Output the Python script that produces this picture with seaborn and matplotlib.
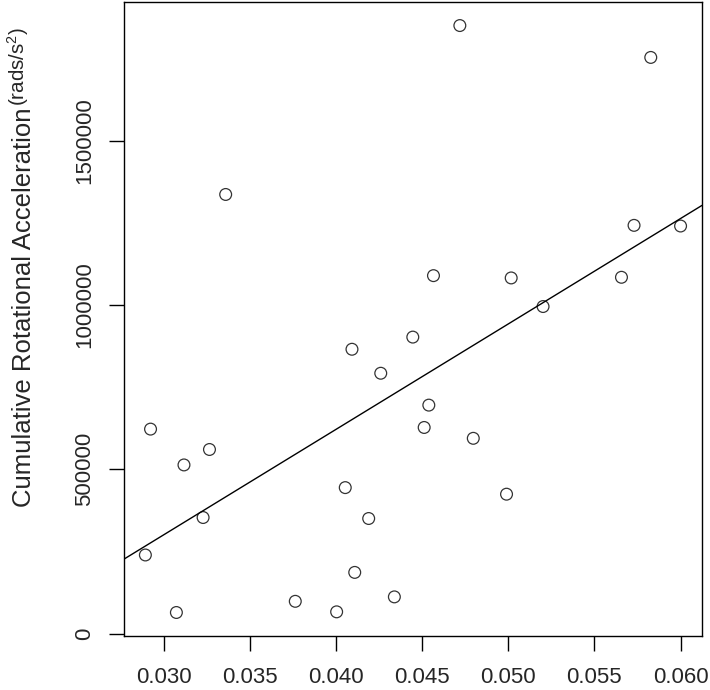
import numpy as np
import pandas as pd
import seaborn as sns
import matplotlib.pyplot as plt
from matplotlib.ticker import FuncFormatter

# values
strain = [0.02894, 0.02924, 0.03074, 0.03118, 0.03229, 0.03266, 0.03360,
          0.03764, 0.04004, 0.04054, 0.04093, 0.04109, 0.04190, 0.04260,
          0.04339, 0.04446, 0.04512, 0.04539, 0.04566, 0.04719, 0.04797,
          0.04990, 0.05017, 0.05202, 0.05657, 0.05730, 0.05827, 0.06000]
rot_acc = [239000, 622000, 64000, 513000, 353000, 560000, 1336000,
           98000, 66000, 444000, 865000, 186000, 350000, 792000,
           111500, 902000, 627000, 695000, 1089000, 1850000, 594000,
           424000, 1082000, 995000, 1084000, 1242000, 1753000, 1240000]
x_ticks = [0.030, 0.035, 0.040, 0.045, 0.050, 0.055, 0.060]
y_ticks = [0, 500000, 1000000, 1500000]

df = pd.DataFrame({'strain': strain, 'acc': rot_acc})

sns.set_style('white')
plt.rcParams['font.family'] = ['Liberation Sans', 'DejaVu Sans']
plt.rcParams['mathtext.fontset'] = 'custom'
plt.rcParams['mathtext.rm'] = 'Liberation Sans'
plt.rcParams['mathtext.it'] = 'Liberation Sans'

fs = 18.5
tfs = 16
fig = plt.figure(figsize=(7.1, 6.9), dpi=100)
ax = fig.add_axes([0.1746, 0.0783, 0.8141, 0.9187])

# R style limits: 4% padding on each side
xr = max(strain) - min(strain)
yr = max(rot_acc) - min(rot_acc)
xlim = (min(strain) - 0.04 * xr, max(strain) + 0.04 * xr)
ylim = (min(rot_acc) - 0.04 * yr, max(rot_acc) + 0.04 * yr)
ax.set_xlim(xlim)
ax.set_ylim(ylim)

sns.regplot(x='strain', y='acc', data=df, ax=ax, ci=None, truncate=False,
            scatter_kws=dict(s=72, facecolors='none', edgecolors='black', linewidths=0.9),
            line_kws=dict(color='black', lw=1.0))
ax.set_xlim(xlim)
ax.set_ylim(ylim)

ax.set_xticks(x_ticks)
ax.set_yticks(y_ticks)
ax.xaxis.set_major_formatter(FuncFormatter(lambda v, p: f'{v:.3f}'))
ax.yaxis.set_major_formatter(FuncFormatter(lambda v, p: f'{int(round(v))}'))
ax.tick_params(axis='both', direction='out', length=10.5, width=1, color='black',
               labelsize=tfs, bottom=True, left=True)
ax.tick_params(axis='x', pad=12)
ax.tick_params(axis='y', pad=10)
for lab in ax.get_yticklabels():
    lab.set_rotation(90)
    lab.set_va('center')

for s in ax.spines.values():
    s.set_color('black')
    s.set_linewidth(1)

ax.set_xlabel('')
ax.set_ylabel('')

# y label with a large R-style superscript
main = fig.text(24 / 710, 1 - 507 / 690, 'Cumulative Rotational Acceleration',
                rotation=90, ha='center', va='bottom', fontsize=fs)
fig.canvas.draw()
bb = main.get_window_extent().transformed(fig.transFigure.inverted())
fig.text(18 / 710, bb.y1 + 0.002, r'(rads/s$^2$)', rotation=90,
         ha='center', va='bottom', fontsize=fs * 0.8)

fig.savefig('out.png', dpi=100)
